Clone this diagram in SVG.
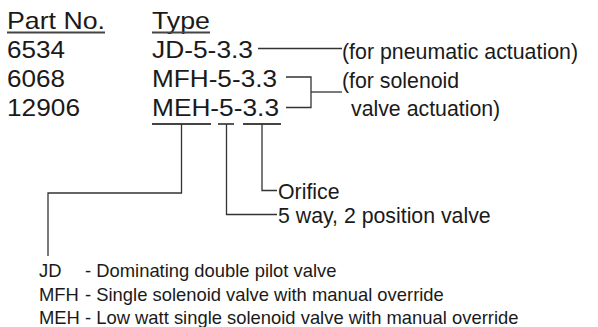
<svg xmlns="http://www.w3.org/2000/svg" width="598" height="327" viewBox="0 0 598 327">
<style>
text{font-family:"Liberation Sans",Arial,sans-serif;fill:#1a1a1a}
.big{font-size:24px}
.mid{font-size:21.3px}
.sm{font-size:18.4px}
.ul{stroke:#444;stroke-width:1.8;fill:none}
.ln{stroke:#333;stroke-width:1.3;fill:none}
</style>
<rect width="598" height="327" fill="#fff"/>
<g id="header">
<text class="big" x="7" y="29" textLength="98" lengthAdjust="spacingAndGlyphs">Part No.</text>
<line class="ul" x1="7" y1="32.5" x2="105" y2="32.5"/>
<text class="big" x="152" y="29" textLength="58" lengthAdjust="spacingAndGlyphs">Type</text>
<line class="ul" x1="152" y1="32.5" x2="210" y2="32.5"/>
</g>
<g id="parts">
<text class="big" x="7" y="58" textLength="58" lengthAdjust="spacingAndGlyphs">6534</text>
<text class="big" x="7" y="87" textLength="58" lengthAdjust="spacingAndGlyphs">6068</text>
<text class="big" x="7" y="116" textLength="73" lengthAdjust="spacingAndGlyphs">12906</text>
</g>
<g id="types">
<text class="big" x="152" y="58" textLength="101" lengthAdjust="spacingAndGlyphs">JD-5-3.3</text>
<text class="big" x="152" y="87" textLength="125" lengthAdjust="spacingAndGlyphs">MFH-5-3.3</text>
<text class="big" x="152" y="116" textLength="127" lengthAdjust="spacingAndGlyphs">MEH-5-3.3</text>
</g>
<g id="notes">
<text class="mid" x="342" y="58.5" textLength="236" lengthAdjust="spacingAndGlyphs">(for pneumatic actuation)</text>
<text class="mid" x="342" y="87.5">(for solenoid</text>
<text class="mid" x="351" y="116">valve actuation)</text>
<text class="mid" x="278" y="199">Orifice</text>
<text class="mid" x="278" y="222.5">5 way, 2 position valve</text>
</g>
<g id="legend">
<text class="sm" x="39" y="277">JD</text>
<text class="sm" x="85" y="277">- Dominating double pilot valve</text>
<text class="sm" x="39" y="301">MFH</text>
<text class="sm" x="85" y="301">- Single solenoid valve with manual override</text>
<text class="sm" x="39" y="324">MEH</text>
<text class="sm" x="85" y="324">- Low watt single solenoid valve with manual override</text>
</g>
<g id="connectors">
<line class="ln" x1="258" y1="48.5" x2="342" y2="48.5"/>
<polyline class="ln" points="286,77 311,77 311,107.5 286,107.5"/>
<line class="ln" x1="311" y1="92" x2="342" y2="92"/>
<line class="ul" x1="152" y1="124" x2="211" y2="124"/>
<line class="ul" x1="218" y1="124" x2="234" y2="124"/>
<line class="ul" x1="243" y1="124" x2="281" y2="124"/>
<polyline class="ln" points="181.5,124 181.5,193 48,193 48,256"/>
<polyline class="ln" points="226.5,124 226.5,214.5 277,214.5"/>
<polyline class="ln" points="262,124 262,190.5 277,190.5"/>
</g>
</svg>
